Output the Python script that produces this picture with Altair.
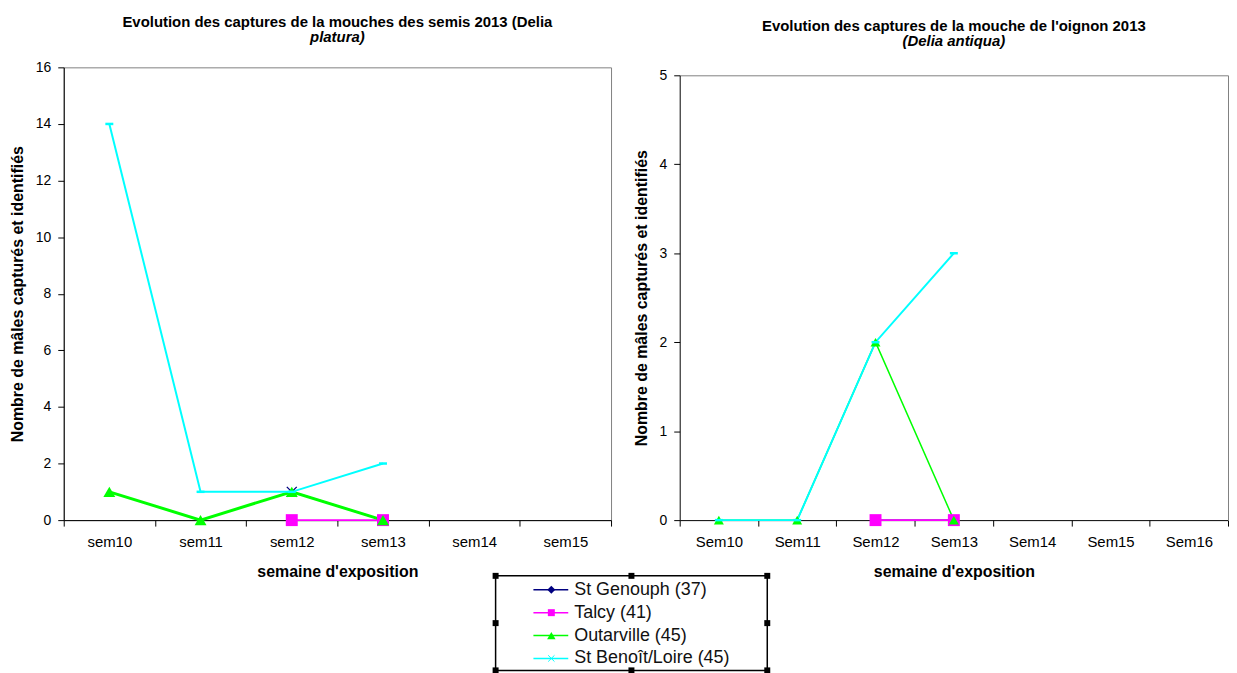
import altair as alt
import pandas as pd

FONT = "Liberation Sans"

series = ["St Genouph (37)", "Talcy (41)", "Outarville (45)", "St Benoît/Loire (45)"]
colors = ["#000080", "#FF00FF", "#00FF00", "#00FFFF"]

# Delia platura (mouche des semis)
weeks_semis = ["sem10", "sem11", "sem12", "sem13", "sem14", "sem15"]
semis_genouph = [None, None, 1, 0, None, None]
semis_talcy = [None, None, 0, 0, None, None]
semis_outarville = [1, 0, 1, 0, None, None]
semis_benoit = [14, 1, 1, 2, None, None]
yticks_semis = [0, 2, 4, 6, 8, 10, 12, 14, 16]

# Delia antiqua (mouche de l'oignon)
weeks_oignon = ["Sem10", "Sem11", "Sem12", "Sem13", "Sem14", "Sem15", "Sem16"]
oignon_genouph = [None, None, 0, 0, None, None, None]
oignon_talcy = [None, None, 0, 0, None, None, None]
oignon_outarville = [0, 0, 2, 0, None, None, None]
oignon_benoit = [0, 0, 2, 3, None, None, None]
yticks_oignon = [0, 1, 2, 3, 4, 5]

X_PATH = "M-1,-1L1,1M1,-1L-1,1"
DASH_PATH = "M-1,0L1,0"
STAR_PATH = "M-1,-1L1,1M1,-1L-1,1"
GRAY = "#808080"

# legend box placement (pixels, relative to the left plotting area)
LEG_X, LEG_Y, LEG_W, LEG_H = 434, 511, 273, 95
LEG_ROW0, LEG_STEP = 14, 23


def panel(weeks, values, yticks, w, h, top_gap, title, subtitle, toffset, lw, msize, extra=()):
    rows = []
    for s, vals in zip(series, values):
        for wk, v in zip(weeks, vals):
            if v is not None:
                rows.append({"serie": s, "semaine": wk, "n": v})
    df = pd.DataFrame(rows)
    framed = top_gap > 0
    xscale = alt.Scale(type="band", domain=weeks, paddingInner=0, paddingOuter=0)
    yscale = alt.Scale(domain=[0, yticks[-1]], nice=False, zero=True, range=[h, top_gap])
    x_axis = alt.Axis(title="semaine d'exposition", labelAngle=0, tickBand="extent",
                      tickSize=6, labelPadding=9, titlePadding=14,
                      labelFontSize=15, titleFontSize=16)
    y_axis = alt.Axis(values=yticks, title="Nombre de mâles capturés et identifiés",
                      tickSize=6, labelPadding=7, titlePadding=10,
                      labelFontSize=14, titleFontSize=16)

    def enc(main):
        show = main or not framed
        return dict(
            x=alt.X("semaine:N", sort=weeks, bandPosition=0.5, scale=xscale,
                    axis=x_axis if show else None),
            y=alt.Y("n:Q", scale=yscale, axis=y_axis if show else None))

    base = alt.Chart(df)
    layers = []
    for i, s in enumerate(series):
        layers.append(base.transform_filter(alt.datum.serie == s)
                      .mark_line(color=colors[i], strokeWidth=lw[i])
                      .encode(**enc(i == 0)))
    pts = [
        dict(shape=X_PATH, filled=False, color=colors[0], strokeWidth=1.3, size=msize[0], opacity=1),
        dict(shape="square", filled=True, color=colors[1], size=msize[1], opacity=1),
        dict(shape="triangle-up", filled=True, color=colors[2], size=msize[2], opacity=1),
        dict(shape=DASH_PATH, filled=False, color=colors[3], strokeWidth=2.5, size=msize[3], opacity=1),
    ]
    for i, s in enumerate(series):
        layers.append(base.transform_filter(alt.datum.serie == s)
                      .mark_point(**pts[i])
                      .encode(**enc(False)))
    view = alt.ViewBackground(stroke=GRAY, strokeWidth=1)
    if framed:
        # grey frame (top and right) around the plotting area
        layers.append(base.mark_line(opacity=0).encode(
            x=alt.X("semaine:N", sort=weeks, bandPosition=0.5, scale=xscale,
                    axis=alt.Axis(orient="top", offset=-top_gap, domainColor=GRAY,
                                  ticks=False, labels=False, title=None)),
            y=alt.Y("n:Q", scale=yscale,
                    axis=alt.Axis(orient="right", domainColor=GRAY,
                                  ticks=False, labels=False, title=None))))
        view = alt.ViewBackground(stroke="transparent")
    layers.extend(extra)
    ch = alt.layer(*layers)
    if framed:
        ch = ch.resolve_axis(x="independent", y="independent")
    return ch.properties(
        width=w, height=h, view=view,
        title=alt.TitleParams(text=title, subtitle=subtitle, frame="group", anchor="middle",
                              offset=toffset, font=FONT, fontSize=15, fontWeight="bold",
                              color="black", subtitleFont=FONT, subtitleFontSize=15,
                              subtitleFontWeight="bold", subtitleFontStyle="italic",
                              subtitleColor="black", subtitlePadding=1))


# ---- legend (drawn below the plots) ----
one = pd.DataFrame({"a": [0]})
leg_layers = [
    alt.Chart(one).mark_rect(filled=False, stroke="black", strokeWidth=1.5).encode(
        x=alt.value(LEG_X), x2=alt.value(LEG_X + LEG_W),
        y=alt.value(LEG_Y), y2=alt.value(LEG_Y + LEG_H))
]
leg_pts = [
    dict(shape="diamond", filled=True, color=colors[0], size=64, opacity=1),
    dict(shape="square", filled=True, color=colors[1], size=49, opacity=1),
    dict(shape="triangle-up", filled=True, color=colors[2], size=72, opacity=1),
    dict(shape=STAR_PATH, filled=False, color=colors[3], strokeWidth=1, size=40, opacity=1),
]
for i, s in enumerate(series):
    yy = LEG_Y + LEG_ROW0 + LEG_STEP * i
    leg_layers.append(alt.Chart(one).mark_rule(color=colors[i], strokeWidth=1.5).encode(
        x=alt.value(LEG_X + 38), x2=alt.value(LEG_X + 73), y=alt.value(yy)))
    leg_layers.append(alt.Chart(one).mark_point(**leg_pts[i]).encode(
        x=alt.value(LEG_X + 56), y=alt.value(yy)))
    leg_layers.append(alt.Chart(one).mark_text(text=s, align="left", baseline="middle",
                                               font=FONT, fontSize=18, color="#111111").encode(
        x=alt.value(LEG_X + 79), y=alt.value(yy)))

handle_x = [0, 0.5, 1, 0, 1, 0, 0.5, 1]
handle_y = [0, 0, 0, 0.5, 0.5, 1, 1, 1]
for hx, hy in zip(handle_x, handle_y):
    leg_layers.append(alt.Chart(one).mark_square(color="black", size=36, opacity=1).encode(
        x=alt.value(LEG_X + hx * LEG_W), y=alt.value(LEG_Y + hy * LEG_H)))

left = panel(weeks_semis,
             [semis_genouph, semis_talcy, semis_outarville, semis_benoit],
             yticks_semis, 550, 455, 0,
             "Evolution des captures de la mouches des semis 2013 (Delia", "platura)",
             15, [1.5, 2, 3, 2], [100, 144, 144, 64], extra=leg_layers)

right = panel(weeks_oignon,
              [oignon_genouph, oignon_talcy, oignon_outarville, oignon_benoit],
              yticks_oignon, 551, 455, 8,
              "Evolution des captures de la mouche de l'oignon 2013", "(Delia antiqua)",
              18, [1.5, 2, 1.5, 2], [100, 144, 100, 64])

chart = alt.hconcat(left, right, spacing=69, bounds="flush").properties(
    padding={"left": 0, "top": 4, "right": 0, "bottom": 0}
).configure_axis(
    domainColor="black", tickColor="black", labelColor="black", titleColor="black",
    labelFont=FONT, titleFont=FONT, titleFontWeight="bold", grid=False, domainWidth=1
)

chart.save("out.html", embed_options={"renderer": "svg", "actions": False})
